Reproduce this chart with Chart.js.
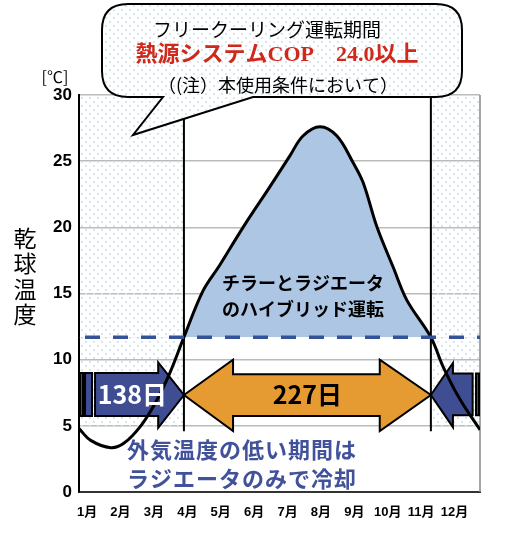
<!DOCTYPE html>
<html>
<head>
<meta charset="utf-8">
<script src="https://cdn.jsdelivr.net/npm/chart.js@4"></script>
<style>body{margin:0;background:#fff}</style>
</head>
<body>
<canvas id="c" width="532" height="536"></canvas>
<script>
// x axis is measured in months (0 = start of Jan, 12 = end of Dec)
const months = ['1月','2月','3月','4月','5月','6月','7月','8月','9月','10月','11月','12月'];
const curveMonth = [0, 0.35, 0.95, 1.35, 1.85, 2.3, 2.72, 3.14, 3.71, 4.2, 4.91, 5.72, 6.31, 6.7, 7.21, 7.72, 8.2, 8.5, 8.92, 9.4, 9.81, 10.53, 10.89, 11.4, 12];
const curveTemp  = [4.8, 3.9, 3.35, 3.7, 5.0, 6.8, 9.0, 11.7, 15.2, 17.1, 20.0, 23.1, 25.4, 26.9, 27.6, 26.9, 24.9, 23.4, 20.0, 17.0, 14.5, 11.7, 9.5, 7.0, 4.7];
const threshold = 11.7;
const hybridPeriod = [3.14, 10.53];
const periodDays = [138, 227];

const BLUE = '#3f4e92';
const ORANGE = '#e59a32';
const FILL = '#adc6e4';
const JP = "'Noto Sans CJK JP', sans-serif";

function makeDots() {
  const c = document.createElement('canvas');
  c.width = 8; c.height = 8;
  const g = c.getContext('2d');
  g.fillStyle = '#d6e7ee';
  g.fillRect(1, 1, 2, 2);
  g.fillRect(5, 5, 2, 2);
  return c;
}
const dotCanvas = makeDots();

function poly(ctx, pts, fill) {
  ctx.beginPath();
  pts.forEach((p, i) => i ? ctx.lineTo(p[0], p[1]) : ctx.moveTo(p[0], p[1]));
  ctx.closePath();
  ctx.fillStyle = fill;
  ctx.fill();
  ctx.lineWidth = 2;
  ctx.strokeStyle = '#000';
  ctx.lineJoin = 'miter';
  ctx.stroke();
}

const decor = {
  id: 'decor',
  beforeDatasetsDraw(chart) {
    const ctx = chart.ctx, xs = chart.scales.x, ys = chart.scales.y;
    const px = v => xs.getPixelForValue(v), py = v => ys.getPixelForValue(v);
    const P = pts => pts.map(p => [px(p[0]), py(p[1])]);
    const [s, e] = hybridPeriod;
    ctx.save();
    // dotted shading for the free-cooling months
    ctx.fillStyle = ctx.createPattern(dotCanvas, 'repeat');
    ctx.fillRect(px(0), py(30), px(s) - px(0), py(5) - py(30));
    ctx.fillRect(px(e), py(30), px(12) - px(e), py(5) - py(30));
    // period boundaries
    ctx.strokeStyle = '#000';
    ctx.lineWidth = 2;
    [s, e].forEach(m => {
      ctx.beginPath(); ctx.moveTo(px(m), py(30)); ctx.lineTo(px(m), py(4.6)); ctx.stroke();
    });
    // right frame
    ctx.strokeStyle = '#888'; ctx.lineWidth = 1.5;
    ctx.beginPath(); ctx.moveTo(px(12), py(30)); ctx.lineTo(px(12), py(0)); ctx.stroke();
    // arrows
    poly(ctx, P([[0.03,9.0],[0.12,9.0],[0.12,5.75],[0.03,5.75]]), BLUE);
    poly(ctx, P([[0.18,9.0],[0.39,9.0],[0.39,5.75],[0.18,5.75]]), BLUE);
    poly(ctx, P([[0.48,9.0],[2.37,9.0],[2.37,9.8],[s,7.33],[2.37,4.85],[2.37,5.75],[0.48,5.75]]), BLUE);
    poly(ctx, P([[s,7.33],[4.61,10.0],[4.61,8.9],[9.0,8.9],[9.0,10.0],[e,7.33],[9.0,4.6],[9.0,5.75],[4.61,5.75],[4.61,4.6]]), ORANGE);
    poly(ctx, P([[e,7.33],[11.19,9.75],[11.19,8.95],[11.78,8.95],[11.78,5.8],[11.19,5.8],[11.19,4.9]]), BLUE);
    poly(ctx, P([[11.88,8.95],[11.97,8.95],[11.97,5.8],[11.88,5.8]]), BLUE);
    ctx.restore();
  },
  afterDatasetsDraw(chart) {
    const ctx = chart.ctx, xs = chart.scales.x, ys = chart.scales.y;
    const px = v => xs.getPixelForValue(v), py = v => ys.getPixelForValue(v);
    const [s, e] = hybridPeriod;
    ctx.save();
    ctx.textBaseline = 'middle';
    ctx.textAlign = 'center';
    ctx.font = 'bold 25px ' + JP;
    ctx.fillStyle = '#fff';
    ctx.fillText(periodDays[0] + '日', px(1.6), py(7.33));
    ctx.fillStyle = '#000';
    ctx.fillText(periodDays[1] + '日', px((s + e) / 2), py(7.33));
    ctx.textAlign = 'left';
    ctx.font = 'bold 18px ' + JP;
    ctx.fillText('チラーとラジエータ', 222, 283);
    ctx.fillText('のハイブリッド運転', 222, 309);
    ctx.fillStyle = '#41529b';
    ctx.font = 'bold 22px ' + JP;
    ctx.letterSpacing = '1px';
    ctx.fillText('外気温度の低い期間は', 127, 450);
    ctx.fillText('ラジエータのみで冷却', 127, 479);
    ctx.restore();
  },
  afterDraw(chart) {
    const ctx = chart.ctx;
    ctx.save();
    // callout bubble
    const l = 102, r = 462, t = 4, b = 97, rad = 26;
    ctx.beginPath();
    ctx.moveTo(l + rad, t);
    ctx.lineTo(r - rad, t);
    ctx.quadraticCurveTo(r, t, r, t + rad);
    ctx.lineTo(r, b - rad);
    ctx.quadraticCurveTo(r, b, r - rad, b);
    ctx.lineTo(253, b);
    ctx.lineTo(133, 135);
    ctx.lineTo(163, b);
    ctx.lineTo(l + rad, b);
    ctx.quadraticCurveTo(l, b, l, b - rad);
    ctx.lineTo(l, t + rad);
    ctx.quadraticCurveTo(l, t, l + rad, t);
    ctx.closePath();
    ctx.fillStyle = '#fff';
    ctx.fill();
    ctx.fillStyle = ctx.createPattern(dotCanvas, 'repeat');
    ctx.fill();
    ctx.lineWidth = 2;
    ctx.strokeStyle = '#000';
    ctx.stroke();

    ctx.textAlign = 'center';
    ctx.textBaseline = 'middle';
    ctx.fillStyle = '#000';
    ctx.font = '19px ' + JP;
    ctx.fillText('フリークーリング運転期間', 267, 30);
    ctx.fillStyle = '#d0281a';
    ctx.font = "bold 22px 'Liberation Serif', " + JP;
    ctx.fillText('熱源システムCOP　24.0以上', 277, 55);
    ctx.fillStyle = '#000';
    ctx.font = '18px ' + JP;
    ctx.fillText('（(注）本使用条件において）', 278, 85);

    ctx.font = '16px ' + JP;
    ctx.fillText('[℃]', 55, 77);
    ctx.font = '23px ' + JP;
    ['乾','球','温','度'].forEach((ch, i) => ctx.fillText(ch, 25, 238 + i * 25.5));
    ctx.restore();
  }
};

new Chart(document.getElementById('c'), {
  type: 'line',
  data: {
    datasets: [
      {
        data: [{x: 0, y: threshold}, {x: 12, y: threshold}],
        borderColor: '#33529a',
        borderWidth: 3.5,
        borderDash: [15, 13],
        borderDashOffset: -6,
        pointRadius: 0,
        fill: false
      },
      {
        data: curveMonth.map((m, i) => ({x: m, y: curveTemp[i]})),
        borderColor: '#000',
        borderWidth: 3,
        pointRadius: 0,
        tension: 0.35,
        fill: {target: {value: threshold}, above: FILL, below: 'rgba(0,0,0,0)'}
      }
    ]
  },
  options: {
    responsive: false,
    animation: false,
    layout: {padding: {top: 95, right: 52, left: 0, bottom: 0}},
    plugins: {legend: {display: false}, tooltip: {enabled: false}},
    scales: {
      x: {
        type: 'linear',
        min: 0,
        max: 12,
        afterFit: s => { s.height = 44; },
        afterBuildTicks: s => { s.ticks = months.map((m, i) => ({value: i + 0.24})); },
        grid: {color: 'rgba(0,0,0,0)', drawTicks: false},
        border: {color: '#333', width: 2},
        ticks: {
          autoSkip: false,
          maxRotation: 0,
          padding: 13,
          color: '#000',
          font: {family: "'Liberation Sans', 'Noto Sans CJK JP'", size: 13, weight: 'bold'},
          callback: (v, i) => months[i]
        }
      },
      y: {
        min: 0,
        max: 30,
        afterFit: s => { s.width = 79; },
        grid: {color: '#bbb', lineWidth: 1.5, drawTicks: false},
        border: {color: '#000', width: 2},
        ticks: {
          stepSize: 5,
          padding: 7,
          color: '#000',
          font: {family: "'Liberation Sans', Arial", size: 17, weight: 'bold'}
        }
      }
    }
  },
  plugins: [decor]
});
</script>
</body>
</html>
